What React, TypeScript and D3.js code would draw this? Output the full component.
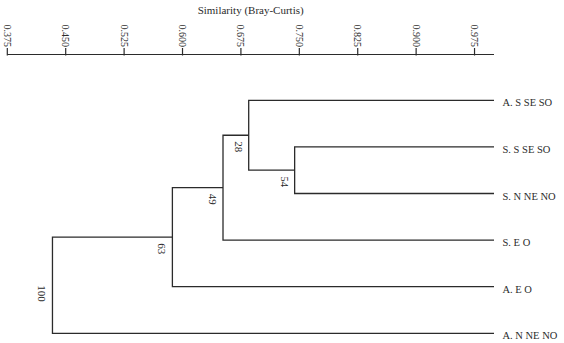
import * as d3 from "d3";
import { useRef, useEffect } from "react";

// leaves, top to bottom
const leaves = ["A. S SE SO", "S. S SE SO", "S. N NE NO", "S. E O", "A. E O", "A. N NE NO"];

// agglomeration steps: each joins two items (leaf name or cluster id "cN")
const merges = [
  ["S. S SE SO", "S. N NE NO"], // c0
  ["A. S SE SO", "c0"], // c1
  ["c1", "S. E O"], // c2
  ["c2", "A. E O"], // c3
  ["c3", "A. N NE NO"] // c4
];
const similarity = [0.744, 0.685, 0.652, 0.587, 0.433];
const support = [54, 28, 49, 63, 100];

const tickValues = [0.375, 0.45, 0.525, 0.6, 0.675, 0.75, 0.825, 0.9, 0.975];
const axisTitle = "Similarity (Bray-Curtis)";

const width = 564;
const height = 343;
const font = "'Liberation Serif', 'Times New Roman', serif";
const ink = "#2b2b2b";

export default function App() {
  const svgRef = useRef(null);

  useEffect(() => {
    const svg = d3.select(svgRef.current);
    svg.selectAll("*").remove();

    const axisY = 54.5;
    const x = d3.scaleLinear().domain([0.375, 1.0]).range([7.3, 494]);
    const y = d3.scalePoint().domain(leaves).range([100.3, 333.3]);

    // axis
    const axis = svg.append("g").attr("transform", `translate(0,${axisY})`);
    axis.append("line")
      .attr("x1", x(0.375)).attr("x2", x(1.0))
      .attr("stroke", ink).attr("stroke-width", 1.2);
    const tick = axis.selectAll("g.tick").data(tickValues).join("g")
      .attr("class", "tick")
      .attr("transform", d => `translate(${x(d)},0)`);
    tick.append("line").attr("y1", -6.5).attr("y2", 1).attr("stroke", ink).attr("stroke-width", 1.2);
    tick.append("text")
      .attr("transform", "translate(0,-7.5) rotate(90)")
      .attr("text-anchor", "end")
      .attr("dy", "0.35em")
      .attr("font-family", font)
      .attr("font-size", 10)
      .attr("fill", ink)
      .text(d => d3.format(".3f")(d));

    svg.append("text")
      .attr("x", (x(0.375) + x(1.0)) / 2)
      .attr("y", 14)
      .attr("text-anchor", "middle")
      .attr("font-family", font)
      .attr("font-size", 11)
      .attr("fill", ink)
      .text(axisTitle);

    // node positions
    const pos = new Map();
    leaves.forEach(name => pos.set(name, { x: x(1.0), y: y(name) }));
    const links = svg.append("g").attr("fill", "none").attr("stroke", ink).attr("stroke-width", 1.3);
    const labels = svg.append("g").attr("font-family", font).attr("font-size", 11).attr("fill", ink);

    merges.forEach(([a, b], i) => {
      const pa = pos.get(a);
      const pb = pos.get(b);
      const nx = x(similarity[i]);
      const ny = (pa.y + pb.y) / 2;
      pos.set(`c${i}`, { x: nx, y: ny });

      const path = d3.path();
      path.moveTo(pa.x, pa.y);
      path.lineTo(nx, pa.y);
      path.lineTo(nx, pb.y);
      path.lineTo(pb.x, pb.y);
      links.append("path").attr("d", path.toString());

      const isRoot = i === merges.length - 1;
      labels.append("text")
        .attr("transform", `translate(${nx - 14},${ny + (isRoot ? 0 : 6)}) rotate(90)`)
        .attr("text-anchor", "start")
        .text(support[i]);
    });

    // leaf labels
    svg.append("g")
      .selectAll("text")
      .data(leaves)
      .join("text")
      .attr("x", x(1.0) + 8.5)
      .attr("y", d => y(d) + 6)
      .attr("font-family", font)
      .attr("font-size", 10.5)
      .attr("fill", ink)
      .text(d => d);
  }, []);

  return (
    <svg
      ref={svgRef}
      width={width}
      height={height}
      style={{ position: "absolute", left: 0, top: 0, background: "#fff" }}
    />
  );
}
